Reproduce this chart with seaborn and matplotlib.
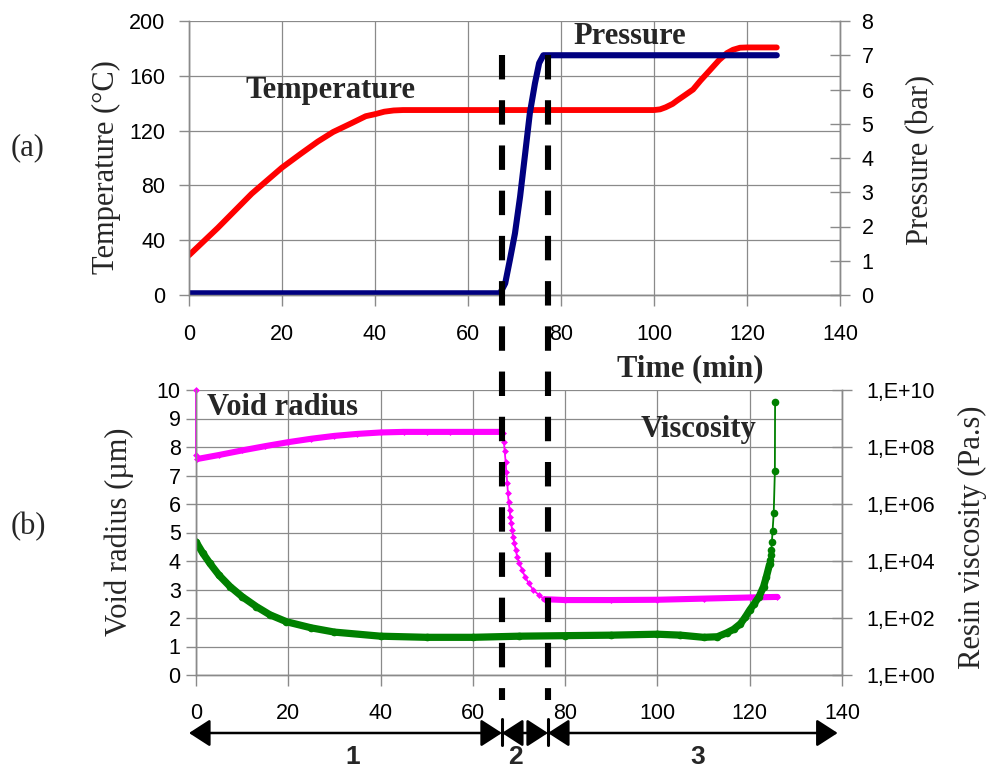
import numpy as np
import pandas as pd
import matplotlib
matplotlib.use("Agg")
import matplotlib.pyplot as plt
import matplotlib.ticker as mticker
from matplotlib.lines import Line2D
from matplotlib.patches import ArrowStyle
from matplotlib.transforms import blended_transform_factory
import seaborn as sns

# ---------------- data ----------------
# (a) cure cycle
temp_time = [0, 6.2, 13.5, 20, 24, 27.7, 31, 35, 38, 40, 42, 44, 46, 60, 80, 100,
             101.3, 102.5, 104, 105, 106.5, 108.4, 110, 112, 114, 115.7, 117,
             118.5, 120, 126.4]
temp_vals = [29, 49, 74, 93, 103, 112, 119, 125.5, 130.5, 132, 133.8, 134.7, 135,
             135, 135, 135, 135.5, 137, 139.5, 142, 145.5, 150, 156.5, 164, 171.5,
             176.6, 179, 180.5, 180.7, 180.7]

press_time = [0, 66.9, 68.0, 69.0, 70.1, 71.2, 72.3, 73.3, 74.4, 75.3, 76.2, 126.4]
press_vals = [0.05, 0.05, 0.34, 1.02, 1.80, 2.87, 4.14, 5.31, 6.18, 6.77, 7.0, 7.0]

# (b) void radius and resin viscosity
void_time = [0, 0, 0.3, 5, 10, 15, 20, 25, 30, 35, 40, 45, 50, 55, 60, 66.2,
             66.52, 66.74, 66.88, 67.1, 67.24, 67.46, 67.6, 67.75, 67.97, 68.1,
             68.3, 68.5, 68.7, 69.0, 69.3, 69.6, 70.1, 70.7, 71.3, 72.1, 73.1,
             74.3, 75.5, 80, 90, 100, 110, 120, 126]
void_radius = [10, 7.72, 7.58, 7.72, 7.88, 8.03, 8.17, 8.29, 8.39, 8.46, 8.51, 8.53,
               8.53, 8.53, 8.53, 8.53,
               8.48, 8.19, 7.87, 7.49, 7.13, 6.73, 6.37, 6.08, 5.79, 5.56,
               5.32, 5.09, 4.85, 4.62, 4.39, 4.15, 3.92, 3.68, 3.45, 3.22, 2.98,
               2.81, 2.66, 2.63, 2.63, 2.64, 2.68, 2.72, 2.74]

visc_time = [0, 1.5, 3.0, 5, 7.4, 10, 13.1, 16, 19.6, 25, 30, 40, 50, 60, 70, 80,
             90, 100, 105, 110, 113, 115, 116.5, 118, 119, 120, 121, 122, 123,
             123.6, 124.3, 124.45, 124.6, 124.7, 124.8, 124.95, 125.2, 125.45, 125.5]
visc_vals = [4.7e4, 1.86e4, 8.3e3, 3.16e3, 1.26e3, 5.6e2, 2.5e2, 1.3e2, 7.4e1, 4.5e1,
             3.2e1, 2.3e1, 2.1e1, 2.1e1, 2.3e1, 2.4e1, 2.5e1, 2.7e1, 2.5e1, 2.1e1,
             2.2e1, 3.0e1, 4.0e1, 6.3e1, 1.05e2, 1.9e2, 3.2e2, 5.5e2, 1.26e3,
             2.75e3, 7.6e3, 1.1e4, 1.6e4, 2.45e4, 4.5e4, 1.12e5, 4.7e5, 1.4e7, 3.8e9]

# phase boundaries on the time axis (min) and their labels
phase_bounds = [0, 67.3, 77.2, 139.5]
phase_labels = ["1", "2", "3"]
phase_label_x = [35.1, 70.1, 109.5]

time_ticks = list(range(0, 141, 20))
temp_ticks = list(range(0, 201, 40))
press_ticks = list(range(0, 9))
radius_ticks = list(range(0, 11))
visc_ticks = [1e0, 1e2, 1e4, 1e6, 1e8, 1e10]

# ---------------- style ----------------
sns.set_theme(style="white")
plt.rcParams["font.family"] = ["Liberation Sans", "DejaVu Sans"]
SERIF = "Liberation Serif"
GRID = "#8a8a8a"
TICK_FS = 15.5
LABEL_FS = 22

fig = plt.figure(figsize=(9.93, 7.69), dpi=100)
W, H = 993, 769


def px_axes(x0, y0, x1, y1):
    return fig.add_axes([x0 / W, 1 - y1 / H, (x1 - x0) / W, (y1 - y0) / H])


ax_a = px_axes(189, 21, 840, 295)
ax_b = px_axes(196, 390, 842, 675)


def style_axes(ax, twin):
    ax.spines["top"].set_visible(False)
    twin.spines["top"].set_visible(False)
    for a in (ax, twin):
        for side in ("left", "right", "bottom"):
            a.spines[side].set_color(GRID)
            a.spines[side].set_linewidth(1.0)
    ax.grid(True, color=GRID, linewidth=0.9)
    ax.set_axisbelow(True)
    ax.tick_params(axis="x", direction="out", length=8, width=1, color=GRID,
                   labelsize=TICK_FS, pad=13, labelcolor="black", bottom=True)
    ax.tick_params(axis="y", direction="out", length=7, width=1, color=GRID,
                   labelsize=TICK_FS, labelcolor="black", left=True)
    twin.tick_params(axis="y", direction="inout", length=15, width=1, color=GRID,
                     labelsize=TICK_FS, labelcolor="black", right=True)
    twin.tick_params(axis="y", which="minor", right=False)


# ---------------- (a) temperature / pressure ----------------
ax_a2 = ax_a.twinx()
style_axes(ax_a, ax_a2)
ax_a.tick_params(axis="y", pad=10)
ax_a2.tick_params(axis="y", pad=8)

sns.lineplot(x=temp_time, y=temp_vals, ax=ax_a, color="#ff0000", linewidth=4.2,
             sort=False, estimator=None)
sns.lineplot(x=press_time, y=press_vals, ax=ax_a2, color="#000080", linewidth=4.4,
             sort=False, estimator=None)
ax_a2.set_zorder(ax_a.get_zorder() + 1)
ax_a2.patch.set_visible(False)

ax_a.set_xlim(0, 140)
ax_a.set_ylim(0, 200)
ax_a2.set_ylim(0, 8)
ax_a.set_xticks(time_ticks)
ax_a.set_yticks(temp_ticks)
ax_a2.set_yticks(press_ticks)

ax_a.set_ylabel("Temperature (°C)", family=SERIF, fontsize=LABEL_FS)
ax_a.yaxis.set_label_coords(-0.104, 0.467)
ax_a2.set_ylabel("Pressure (bar)", family=SERIF, fontsize=LABEL_FS)
ax_a2.yaxis.set_label_coords(1.101, 0.493)
ax_a.set_xlabel("Time (min)", family=SERIF, fontsize=LABEL_FS, fontweight="bold")
ax_a.xaxis.set_label_coords(0.770, -0.215)

ax_a.text(30.5, 149, "Temperature", family=SERIF, fontsize=LABEL_FS,
          fontweight="bold", ha="center", va="center")
ax_a2.text(94.8, 7.55, "Pressure", family=SERIF, fontsize=LABEL_FS,
           fontweight="bold", ha="center", va="center")

# ---------------- (b) void radius / viscosity ----------------
ax_b2 = ax_b.twinx()
style_axes(ax_b, ax_b2)
ax_b.tick_params(axis="y", pad=4)
ax_b2.tick_params(axis="y", pad=10)
ax_b.tick_params(axis="x", pad=12)

vt = np.array(void_time)
vr = np.array(void_radius)
# thin line with markers through the whole series, thick where samples are dense
sns.lineplot(x=vt, y=vr, ax=ax_b, color="#ff00ff", linewidth=1.3, sort=False,
             estimator=None, marker="D", markersize=3.5, markeredgewidth=0,
             zorder=3, clip_on=False)
for seg in ((vt > 0.1) & (vt <= 66.3), vt >= 75.4):
    sns.lineplot(x=vt[seg], y=vr[seg], ax=ax_b, color="#ff00ff", linewidth=4.4,
                 sort=False, estimator=None, zorder=3)

ct = np.array(visc_time)
cv = np.array(visc_vals)
dense_c = ct <= 124.3
sns.lineplot(x=ct, y=cv, ax=ax_b2, color="#008000", linewidth=1.3, sort=False,
             estimator=None, marker="o", markersize=5.5, markeredgewidth=0)
sns.lineplot(x=ct[dense_c], y=cv[dense_c], ax=ax_b2, color="#008000", linewidth=5.2,
             sort=False, estimator=None)

ax_b.set_xlim(0, 140)
ax_b.set_ylim(0, 10)
ax_b.set_xticks(time_ticks)
ax_b.set_yticks(radius_ticks)
ax_b2.set_yscale("log")
ax_b2.set_ylim(1, 1e10)
ax_b2.set_yticks(visc_ticks)
ax_b2.yaxis.set_minor_locator(mticker.NullLocator())
ax_b2.yaxis.set_major_formatter(
    mticker.FuncFormatter(lambda v, _: "1,E+%02d" % round(np.log10(v))))

ax_b.set_ylabel("Void radius (µm)", family=SERIF, fontsize=LABEL_FS)
ax_b.yaxis.set_label_coords(-0.096, 0.502)
ax_b2.set_ylabel("Resin viscosity (Pa.s)", family=SERIF, fontsize=LABEL_FS)
ax_b2.yaxis.set_label_coords(1.180, 0.484)
ax_b.set_xlabel("")

ax_b.text(18.7, 9.37, "Void radius", family=SERIF, fontsize=LABEL_FS,
          fontweight="bold", ha="center", va="center")
ax_b.text(108.9, 8.6, "Viscosity", family=SERIF, fontsize=LABEL_FS,
          fontweight="bold", ha="center", va="center")

# panel tags
fig.text(28 / W, 1 - 148 / H, "(a)", family=SERIF, fontsize=LABEL_FS,
         ha="center", va="center")
fig.text(28 / W, 1 - 527 / H, "(b)", family=SERIF, fontsize=LABEL_FS,
         ha="center", va="center")

# ---------------- phase markers ----------------
tr = blended_transform_factory(ax_a.transData, fig.transFigure)
y_top = 1 - 55 / H
y_bot = 1 - 700 / H
for xb in phase_bounds[1:3]:
    fig.add_artist(Line2D([xb, xb], [y_top, y_bot], transform=tr, color="black",
                          linewidth=4.4, linestyle=(0, (4.0, 3.4)),
                          solid_capstyle="butt", dash_capstyle="butt", zorder=10))
    fig.add_artist(Line2D([xb, xb], [1 - 719 / H, 1 - 745 / H], transform=tr,
                          color="black", linewidth=2.2, zorder=10))

y_arrow = 1 - 733 / H
head = ArrowStyle("<|-|>", head_length=0.65, head_width=0.42)
for i, lab in enumerate(phase_labels):
    x0, x1 = phase_bounds[i], phase_bounds[i + 1]
    ax_a.annotate("", xy=(x1, y_arrow), xytext=(x0, y_arrow), xycoords=tr,
                  textcoords=tr,
                  arrowprops=dict(arrowstyle=head, color="black", lw=1.8,
                                  mutation_scale=20, shrinkA=0, shrinkB=0))
    fig.text(phase_label_x[i], 1 - 757 / H, lab, transform=tr, fontsize=19,
             fontweight="bold", ha="center", va="center")

fig.savefig("out.png", dpi=100, facecolor="white")
